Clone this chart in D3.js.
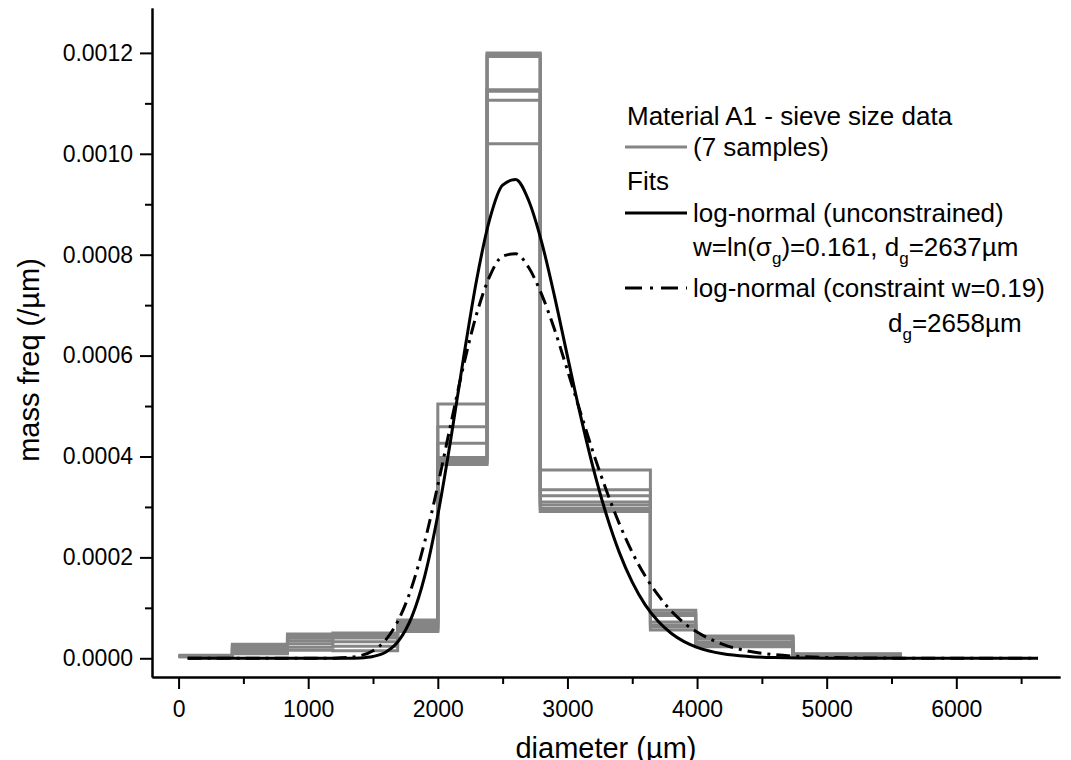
<!DOCTYPE html>
<html>
<head>
<meta charset="utf-8">
<script src="https://cdn.jsdelivr.net/npm/d3@7"></script>
<style>
    body { margin: 0; background: #fff; }
    #chart { width: 1071px; height: 760px; }
    text { font-family: "Liberation Sans", Arial, sans-serif; fill: #000; }
    .tickText { font-size: 23px; }
    .axisTitle { font-size: 29px; }
    .legendText { font-size: 26px; }
</style>
</head>
<body>
<div id="chart"><svg width="1071" height="760"></svg></div>
<script>

// sieve bin edges (um)
const sieveEdges = [0, 415, 840, 1190, 1690, 2000, 2380, 2790, 3640, 3990, 4740, 5580];

// mass freq of each bin, one row per sample (7 samples)
const sample1 = [0.000006, 0.000028, 0.000048, 0.000050, 0.000076, 0.000504, 0.001200, 0.000373, 0.000095, 0.000044, 0.000009];
const sample2 = [0.000005, 0.000025, 0.000044, 0.000047, 0.000071, 0.000459, 0.001197, 0.000334, 0.000090, 0.000041, 0.000008];
const sample3 = [0.000005, 0.000022, 0.000040, 0.000044, 0.000066, 0.000426, 0.001193, 0.000322, 0.000085, 0.000039, 0.000007];
const sample4 = [0.000004, 0.000019, 0.000035, 0.000040, 0.000062, 0.000398, 0.001127, 0.000310, 0.000072, 0.000033, 0.000006];
const sample5 = [0.000004, 0.000016, 0.000029, 0.000033, 0.000058, 0.000392, 0.001124, 0.000304, 0.000066, 0.000029, 0.000005];
const sample6 = [0.000003, 0.000012, 0.000022, 0.000024, 0.000055, 0.000388, 0.001106, 0.000297, 0.000062, 0.000026, 0.000005];
const sample7 = [0.000003, 0.000009, 0.000016, 0.000015, 0.000053, 0.000384, 0.001020, 0.000291, 0.000056, 0.000023, 0.000004];
const samples = [sample1, sample2, sample3, sample4, sample5, sample6, sample7];

// fitted curves
const fitDiameter = [70, 400, 800, 1000, 1200, 1300, 1400, 1500, 1600, 1700, 1800, 1900,
    2000, 2100, 2200, 2300, 2400, 2500, 2600, 2700, 2800, 2900, 3000, 3100, 3200,
    3300, 3400, 3500, 3600, 3700, 3800, 3900, 4000, 4200, 4400, 4600, 4800, 5000,
    5500, 6000, 6630];
const fitUnconstrained = [0, 0, 0, 0, 0.00000001, 0.00000012, 0.00000078, 0.0000036, 0.0000125, 0.0000354, 0.0000826, 0.000164,
    0.000284, 0.000434, 0.000598, 0.000751, 0.000870, 0.000938, 0.000949, 0.000908, 0.000826, 0.000718, 0.000599, 0.000482, 0.000376,
    0.000285, 0.000210, 0.000151, 0.000106, 0.0000733, 0.0000496, 0.0000331, 0.0000218, 0.0000090, 0.0000036, 0.0000014, 0.0000005, 0.0000002,
    0, 0, 0];
const fitConstrained = [0, 0, 0, 0, 0.0000003, 0.0000014, 0.0000050, 0.0000150, 0.0000370, 0.0000777, 0.000142, 0.000232,
    0.000343, 0.000464, 0.000582, 0.000683, 0.000757, 0.000797, 0.000802, 0.000775, 0.000722, 0.000652, 0.000571, 0.000488, 0.000407,
    0.000333, 0.000267, 0.000210, 0.000163, 0.000125, 0.000094, 0.000070, 0.000052, 0.0000275, 0.0000141, 0.0000071, 0.0000035, 0.0000017,
    0.0000003, 0, 0];

// tick labels
const xTicks = [0, 1000, 2000, 3000, 4000, 5000, 6000];
const xMinorTicks = [500, 1500, 2500, 3500, 4500, 5500, 6500];
const yTicks = [0, 0.0002, 0.0004, 0.0006, 0.0008, 0.0010, 0.0012];
const yMinorTicks = [0.0001, 0.0003, 0.0005, 0.0007, 0.0009, 0.0011];

function makePlot() {

    /**********************
    ***** BASIC SETUP *****
    **********************/

    const width = 1071;
    const height = 760;
    const margin = {top: 8, left: 152, right: 11, bottom: 83};

    const plotWidth = width - margin.left - margin.right;
    const plotHeight = height - margin.bottom - margin.top;

    const svg = d3.select("#chart").select("svg");

    const GREY = "#858585";

    /***********************
    ***** X & Y SCALES *****
    ***********************/

    const xScale = d3.scaleLinear()
        .domain([-205, 6800])
        .range([0, plotWidth]);

    const yScale = d3.scaleLinear()
        .domain([-0.0000371, 0.001289])
        .range([plotHeight, 0]);

    /*********************
    ***** X & Y AXES *****
    *********************/

    const xAxis = svg.append("g")
        .attr("class", "xAxis")
        .attr("transform", `translate(${margin.left}, ${plotHeight + margin.top})`)
        .call(d3.axisBottom(xScale)
            .tickValues(xTicks)
            .tickSize(12)
            .tickSizeOuter(0)
            .tickPadding(12)
            .tickFormat(d3.format("d")));

    // minor ticks
    svg.append("g")
        .attr("class", "xAxis")
        .attr("transform", `translate(${margin.left}, ${plotHeight + margin.top})`)
        .call(d3.axisBottom(xScale)
            .tickValues(xMinorTicks)
            .tickSize(7)
            .tickSizeOuter(0)
            .tickFormat(""));

    const yAxis = svg.append("g")
        .attr("class", "yAxis")
        .attr("transform", `translate(${margin.left}, ${margin.top})`)
        .call(d3.axisLeft(yScale)
            .tickValues(yTicks)
            .tickSize(12)
            .tickSizeOuter(0)
            .tickPadding(7)
            .tickFormat(d3.format(".4f")));

    svg.append("g")
        .attr("class", "yAxis")
        .attr("transform", `translate(${margin.left}, ${margin.top})`)
        .call(d3.axisLeft(yScale)
            .tickValues(yMinorTicks)
            .tickSize(7)
            .tickSizeOuter(0)
            .tickFormat(""));

    svg.selectAll(".xAxis path, .yAxis path, .xAxis line, .yAxis line")
        .attr("stroke", "#000")
        .attr("stroke-width", 2);

    svg.selectAll(".xAxis text, .yAxis text")
        .attr("class", "tickText")
        .attr("font-family", null)
        .attr("font-size", null);

    /****************
    ***** LINES *****
    *****************/

    const plot = svg.append("g")
        .attr("id", "plot")
        .attr("transform", `translate(${margin.left}, ${margin.top})`);

    // sieve data as steps: one point per bin edge
    const stepLine = d3.line()
        .x(d => xScale(d.x))
        .y(d => yScale(d.y))
        .curve(d3.curveStepAfter);

    samples.forEach(function(values) {
        const pts = sieveEdges.map((e, i) => ({x: e, y: values[Math.min(i, values.length - 1)]}));
        plot.append("path")
            .datum(pts)
            .attr("class", "line")
            .attr("fill", "none")
            .attr("stroke", GREY)
            .attr("stroke-width", 3)
            .attr("d", stepLine);
    });

    const fitLine = d3.line()
        .x(d => xScale(d.x))
        .y(d => yScale(d.y))
        .curve(d3.curveMonotoneX);

    plot.append("path")
        .datum(fitDiameter.map((x, i) => ({x: x, y: fitConstrained[i]})))
        .attr("fill", "none")
        .attr("stroke", "#000")
        .attr("stroke-width", 3)
        .attr("stroke-dasharray", "14 6 3 6")
        .attr("d", fitLine);

    plot.append("path")
        .datum(fitDiameter.map((x, i) => ({x: x, y: fitUnconstrained[i]})))
        .attr("fill", "none")
        .attr("stroke", "#000")
        .attr("stroke-width", 3)
        .attr("d", fitLine);

    /*****************
    ***** LEGEND *****
    *****************/

    const legend = svg.append("g")
        .attr("id", "legend");

    // parts: plain strings, or {sub: "g"} for a subscript
    function legendText(x, y, parts) {
        const t = legend.append("text")
            .attr("class", "legendText")
            .attr("x", x)
            .attr("y", y);
        let shifted = false;
        parts.forEach(function(p) {
            const span = t.append("tspan");
            if (typeof p === "object") {
                span.attr("dy", 8).attr("font-size", 17).text(p.sub);
                shifted = true;
            } else {
                if (shifted) span.attr("dy", -8);
                shifted = false;
                span.text(p);
            }
        });
    }

    function legendLine(y, dash, color) {
        legend.append("line")
            .attr("x1", 625).attr("x2", 687)
            .attr("y1", y).attr("y2", y)
            .attr("stroke", color)
            .attr("stroke-width", 3)
            .attr("stroke-dasharray", dash);
    }

    legendText(627, 125, ["Material A1 - sieve size data"]);
    legendLine(147, null, GREY);
    legendText(693, 156, ["(7 samples)"]);
    legendText(627, 190, ["Fits"]);
    legendLine(213, null, "#000");
    legendText(693, 222, ["log-normal (unconstrained)"]);
    legendText(693, 256, ["w=ln(σ", {sub: "g"}, ")=0.161, d", {sub: "g"}, "=2637µm"]);
    legendLine(288, "17 8 3 8", "#000");
    legendText(693, 297, ["log-normal (constraint w=0.19)"]);
    legendText(888, 332, ["d", {sub: "g"}, "=2658µm"]);

    /**********************
    ***** AXIS TITLES *****
    **********************/

    svg.append("text")
        .attr("class", "axisTitle")
        .attr("x", margin.left + plotWidth / 2)
        .attr("y", 758)
        .attr("text-anchor", "middle")
        .text("diameter (µm)");

    svg.append("text")
        .attr("class", "axisTitle")
        .attr("transform", `translate(39, 360) rotate(-90)`)
        .attr("text-anchor", "middle")
        .text("mass freq (/µm)");
}

makePlot();
</script>
</body>
</html>
